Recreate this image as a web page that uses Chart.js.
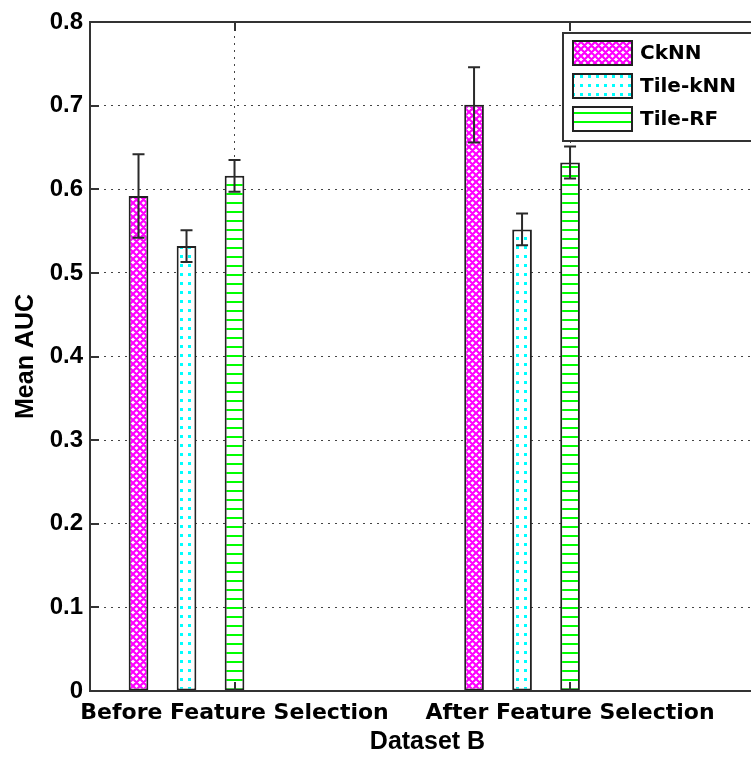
<!DOCTYPE html>
<html>
<head>
<meta charset="utf-8">
<title>Mean AUC - Dataset B</title>
<script src="https://cdn.jsdelivr.net/npm/chart.js@4.4.1/dist/chart.umd.min.js"></script>
<style>
  html, body { margin: 0; padding: 0; background: #fff; overflow: hidden; }
  #wrap { width: 751px; height: 758px; overflow: hidden; }
</style>
</head>
<body>
<div id="wrap"><canvas id="aucChart" width="775" height="758"></canvas></div>
<script>
// Grupos no eixo x
const groups = ['Before Feature Selection', 'After Feature Selection'];
const groupPos = [1, 2];

// Médias e desvios por método
const cknnMean = [0.592, 0.701];
const cknnErr = [0.050, 0.045];
const tileKnnMean = [0.532, 0.552];
const tileKnnErr = [0.019, 0.019];
const tileRfMean = [0.616, 0.632];
const tileRfErr = [0.019, 0.019];

// Rótulos do eixo y
const yTickLabels = ['0', '0.1', '0.2', '0.3', '0.4', '0.5', '0.6', '0.7', '0.8'];

const canvas = document.getElementById('aucChart');
const mainCtx = canvas.getContext('2d');

// Texturas das barras
function makePattern(w, h, draw) {
    const c = document.createElement('canvas');
    c.width = w;
    c.height = h;
    const g = c.getContext('2d');
    g.fillStyle = '#fff';
    g.fillRect(0, 0, w, h);
    draw(g);
    return mainCtx.createPattern(c, 'repeat');
}

const crossHatch = makePattern(7, 7, g => {
    g.strokeStyle = '#ff00ff';
    g.lineWidth = 2.2;
    g.beginPath();
    for (const k of [-7, 0, 7]) {
        g.moveTo(k, 0); g.lineTo(k + 7, 7);
        g.moveTo(k + 7, 0); g.lineTo(k, 7);
    }
    g.stroke();
});

const cyanDots = makePattern(8, 9, g => {
    g.fillStyle = '#00ffff';
    g.fillRect(4, 3, 3, 3);
});

const greenLines = makePattern(9, 9, g => {
    g.fillStyle = '#00ff00';
    g.fillRect(0, 4, 9, 2);
});

function points(values) {
    return groupPos.map((x, i) => ({ x: x, y: values ? values[i] : null }));
}

function barSet(label, values, errors, fill) {
    return {
        label: label,
        data: points(values),
        errors: errors,
        showInLegend: true,
        backgroundColor: fill,
        borderColor: '#222',
        borderWidth: 2,
        borderSkipped: false
    };
}

// Duas colunas vazias completam o grupo de cinco
function emptySet() {
    return {
        label: '',
        data: points(null),
        showInLegend: false,
        backgroundColor: 'transparent',
        borderWidth: 0
    };
}

const boldAxis = { family: '"Liberation Sans", Arial, sans-serif', size: 24, weight: 'bold', lineHeight: 1.2 };
const boldGroup = { family: '"DejaVu Sans", sans-serif', size: 22, weight: 'bold', lineHeight: 1.2 };
const boldTitle = { family: '"Liberation Sans", Arial, sans-serif', size: 25, weight: 'bold', lineHeight: 1.2 };

// Moldura com marcas internas
const axesBox = {
    id: 'axesBox',
    afterDatasetsDraw(chart) {
        const { ctx, chartArea: a, scales } = chart;
        const len = 9;
        ctx.save();
        ctx.strokeStyle = '#333';
        ctx.lineWidth = 2;
        ctx.beginPath();
        ctx.rect(a.left, a.top, a.right - a.left, a.bottom - a.top);
        scales.y.ticks.forEach(t => {
            const py = Math.round(scales.y.getPixelForValue(t.value));
            ctx.moveTo(a.left, py); ctx.lineTo(a.left + len, py);
            ctx.moveTo(a.right, py); ctx.lineTo(a.right - len, py);
        });
        scales.x.ticks.forEach(t => {
            const px = Math.round(scales.x.getPixelForValue(t.value));
            ctx.moveTo(px, a.bottom); ctx.lineTo(px, a.bottom - len);
            ctx.moveTo(px, a.top); ctx.lineTo(px, a.top + len);
        });
        ctx.stroke();
        ctx.restore();
    }
};

// Barras de erro
const errorBars = {
    id: 'errorBars',
    afterDatasetsDraw(chart) {
        const ctx = chart.ctx;
        const y = chart.scales.y;
        chart.data.datasets.forEach((ds, i) => {
            if (!ds.errors) return;
            const meta = chart.getDatasetMeta(i);
            meta.data.forEach((bar, j) => {
                const v = ds.data[j].y;
                const e = ds.errors[j];
                if (v == null) return;
                const top = y.getPixelForValue(v + e);
                const bot = y.getPixelForValue(v - e);
                ctx.save();
                ctx.strokeStyle = '#2a2a2a';
                ctx.lineWidth = 2;
                ctx.beginPath();
                ctx.moveTo(bar.x, top); ctx.lineTo(bar.x, bot);
                ctx.moveTo(bar.x - 6, top); ctx.lineTo(bar.x + 6, top);
                ctx.moveTo(bar.x - 6, bot); ctx.lineTo(bar.x + 6, bot);
                ctx.stroke();
                ctx.restore();
            });
        });
    }
};

// Legenda em caixa no canto superior direito
const boxLegend = {
    id: 'boxLegend',
    afterDraw(chart) {
        const { ctx, chartArea } = chart;
        const items = chart.data.datasets.filter(d => d.showInLegend);
        const w = 191, rowH = 33;
        const right = chartArea.right - 11;
        const left = right - w;
        const top = chartArea.top + 11;
        const h = items.length * rowH + 9;
        ctx.save();
        ctx.fillStyle = '#fff';
        ctx.fillRect(left, top, w, h);
        ctx.strokeStyle = '#333';
        ctx.lineWidth = 2;
        ctx.strokeRect(left, top, w, h);
        items.forEach((ds, i) => {
            const sy = top + 8 + i * rowH;
            ctx.fillStyle = ds.backgroundColor;
            ctx.fillRect(left + 10, sy, 59, 24);
            ctx.strokeStyle = '#222';
            ctx.strokeRect(left + 10, sy, 59, 24);
            ctx.fillStyle = '#000';
            ctx.font = 'bold 20px "DejaVu Sans", sans-serif';
            ctx.textBaseline = 'middle';
            ctx.textAlign = 'left';
            ctx.fillText(ds.label, left + 77, sy + 13);
        });
        ctx.restore();
    }
};

new Chart(canvas, {
    type: 'bar',
    data: {
        datasets: [
            barSet('CkNN', cknnMean, cknnErr, crossHatch),
            barSet('Tile-kNN', tileKnnMean, tileKnnErr, cyanDots),
            barSet('Tile-RF', tileRfMean, tileRfErr, greenLines),
            emptySet(),
            emptySet()
        ]
    },
    options: {
        responsive: false,
        animation: false,
        skipNull: false,
        categoryPercentage: 0.7153,
        barPercentage: 0.41,
        layout: { padding: { left: 0, top: 22, right: 10, bottom: 0 } },
        plugins: {
            legend: { display: false },
            tooltip: { enabled: false }
        },
        scales: {
            x: {
                type: 'linear',
                offset: false,
                min: 0.5693,
                max: 2.581,
                afterBuildTicks: scale => {
                    scale.ticks = groupPos.map(v => ({ value: v }));
                },
                afterFit: scale => { scale.height = 67; },
                grid: { offset: false, color: '#444', lineWidth: 1, drawTicks: false },
                border: { display: false, dash: [2, 5] },
                ticks: {
                    color: '#000',
                    font: boldGroup,
                    padding: 9,
                    autoSkip: false,
                    maxRotation: 0,
                    callback: value => groups[groupPos.indexOf(value)]
                },
                title: {
                    display: true,
                    text: 'Dataset B',
                    color: '#000',
                    font: boldTitle,
                    padding: { top: 0, bottom: 1 }
                }
            },
            y: {
                min: 0,
                max: 0.8,
                afterFit: scale => { scale.width = 90; },
                grid: { color: '#444', lineWidth: 1, drawTicks: false },
                border: { display: false, dash: [2, 5] },
                ticks: {
                    stepSize: 0.1,
                    color: '#000',
                    font: boldAxis,
                    padding: 7,
                    callback: (value, index) => yTickLabels[index]
                },
                title: {
                    display: true,
                    text: 'Mean AUC',
                    color: '#000',
                    font: boldTitle,
                    padding: { top: 11, bottom: 0 }
                }
            }
        }
    },
    plugins: [axesBox, errorBars, boxLegend]
});
</script>
</body>
</html>
